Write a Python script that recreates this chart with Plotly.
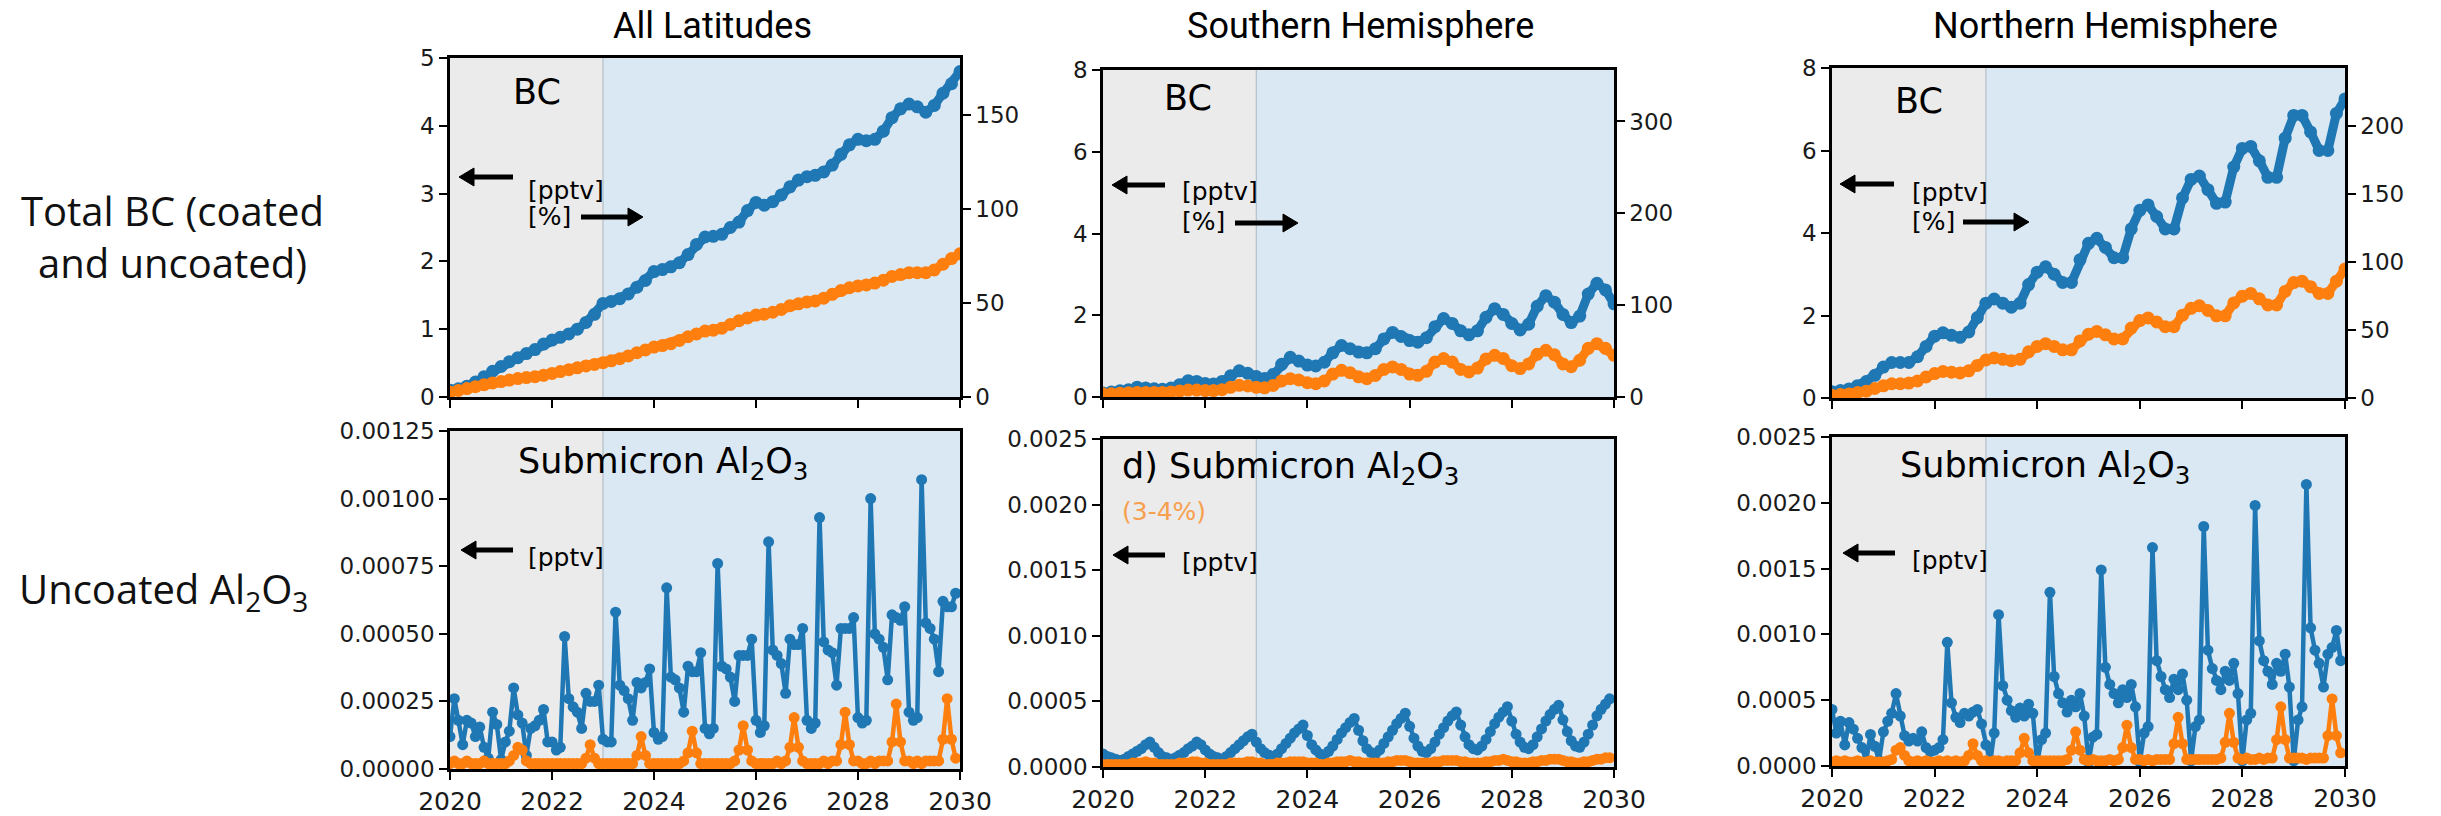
import pandas as pd
import plotly.graph_objects as go

W, H = 2441, 816
BLUE = '#1f77b4'
ORANGE = '#ff7f0e'
GRAY_BG = '#ebebeb'
BLUE_BG = '#dae8f4'

# ---------------- data ----------------
months = pd.date_range('2020-01-01', periods=120, freq='MS')          # bottom row (monthly)
bimonths = pd.date_range('2020-01-01', '2030-01-01', freq='2MS')      # top row (every 2 months)

col_titles = ['All Latitudes', 'Southern Hemisphere', 'Northern Hemisphere']
row_titles = ['Total BC (coated<br>and uncoated)', 'Uncoated Al<sub>2</sub>O<sub>3</sub>']

# Top row: total BC, blue = [pptv] (left axis), orange = [%] (right axis)
bc_all_pptv = [.10, .12, .16, .22, .30, .38,
               .45, .52, .58, .64, .70, .78,
               .84, .88, .93, 1.00, 1.10, 1.22,
               1.38, 1.41, 1.45, 1.52, 1.62, 1.72,
               1.85, 1.88, 1.92, 1.98, 2.10, 2.25,
               2.36, 2.37, 2.40, 2.50, 2.58, 2.75,
               2.87, 2.83, 2.88, 2.98, 3.10, 3.20,
               3.25, 3.27, 3.32, 3.42, 3.58, 3.72,
               3.80, 3.78, 3.80, 3.92, 4.12, 4.25,
               4.32, 4.28, 4.20, 4.30, 4.48, 4.62,
               4.80]
bc_all_pct = [2.5, 3.5, 4.5, 5.5, 6.5, 7.5,
              8.2, 9.0, 9.8, 10.3, 10.8, 11.5,
              12.5, 13.5, 14.5, 15.5, 16.5, 17.3,
              18.2, 19.2, 20.3, 21.8, 23.5, 25.0,
              26.5, 27.3, 28.3, 30.0, 32.0, 33.5,
              35.0, 35.5, 36.5, 38.5, 40.5, 42.0,
              43.5, 44.0, 45.0, 46.5, 48.5, 49.5,
              50.5, 51.0, 52.5, 54.5, 56.5, 58.0,
              59.0, 59.5, 60.5, 62.0, 64.0, 65.0,
              66.0, 66.0, 66.0, 67.5, 70.5, 73.5,
              76.0]
bc_sh_pptv = [.10, .12, .15, .18, .24, .22,
              .20, .19, .22, .30, .40, .38,
              .33, .32, .38, .52, .64, .58,
              .50, .45, .55, .80, .97, .88,
              .78, .76, .85, 1.08, 1.26, 1.18,
              1.10, 1.08, 1.18, 1.42, 1.58, 1.48,
              1.38, 1.34, 1.45, 1.72, 1.92, 1.80,
              1.62, 1.52, 1.62, 1.95, 2.16, 2.02,
              1.80, 1.64, 1.78, 2.22, 2.48, 2.32,
              2.02, 1.82, 1.98, 2.52, 2.78, 2.62,
              2.28]
bc_sh_pct = [3.5, 3.5, 4.0, 4.5, 5.0, 5.0,
             5.0, 5.0, 5.5, 6.5, 7.5, 7.5,
             7.0, 7.0, 8.0, 10.5, 12.7, 12.0,
             10.5, 10.0, 12.5, 17.5, 20.0, 18.5,
             15.5, 14.5, 17.5, 25.0, 29.0, 26.5,
             22.0, 20.0, 23.5, 30.0, 32.7, 30.0,
             25.0, 23.6, 28.0, 38.0, 41.8, 38.0,
             30.0, 27.2, 31.5, 41.5, 45.4, 42.0,
             34.0, 31.0, 36.0, 46.5, 50.9, 46.0,
             36.0, 33.0, 40.0, 53.0, 58.0, 53.0,
             45.4]
bc_nh_pptv = [.15, .18, .22, .30, .40, .55,
              .75, .86, .86, .86, 1.00, 1.25,
              1.50, 1.58, 1.52, 1.47, 1.60, 1.95,
              2.30, 2.40, 2.30, 2.20, 2.30, 2.75,
              3.05, 3.18, 3.00, 2.80, 2.80, 3.35,
              3.75, 3.87, 3.65, 3.40, 3.40, 4.10,
              4.55, 4.68, 4.40, 4.10, 4.10, 4.85,
              5.30, 5.38, 5.05, 4.72, 4.75, 5.60,
              6.05, 6.10, 5.75, 5.35, 5.35, 6.30,
              6.85, 6.85, 6.45, 6.00, 6.00, 6.90,
              7.25]
bc_nh_pct = [2, 2.5, 3, 4, 5, 7,
             9, 10.5, 10.5, 11, 12.5, 15.5,
             18, 19.5, 19, 18.5, 20, 24,
             28, 29.5, 28.5, 27.5, 28.5, 34,
             38, 40, 38, 35.5, 35.5, 42,
             47, 49, 46.5, 43.5, 43.5, 51.5,
             57, 59, 56, 52.5, 52.5, 61,
             66, 68, 64.5, 60.5, 60.5, 70,
             75, 77, 73, 68.5, 68.5, 78.5,
             85, 86, 82, 77, 77, 86,
             95]

# Bottom row: submicron Al2O3 [pptv], monthly
al_all_blue = [.00012, .00026, .00018, .00009, .00018, .00017, .00012, .000155, .00008, .00004, .00021, .000165,
               .000035, .00010, .00014, .00030, .00020, .00017, .00005, .00015, .00016, .00018, .00022, .00010,
               .00010, .00007, .00008, .00049, .00026, .00023, .00021, .00015, .00028, .00025, .00025, .00031,
               .00011, .00010, .00010, .00058, .00031, .00029, .00026, .00018, .00032, .00030, .00032, .00037,
               .000135, .00011, .00012, .00067, .00034, .00033, .00030, .00021, .00038, .00036, .00036, .00043,
               .00015, .00013, .00015, .00076, .00038, .00037, .00034, .00025, .00042, .00042, .00042, .00048,
               .00018, .000135, .00016, .00084, .00044, .00042, .00039, .00028, .00048, .00046, .00046, .00052,
               .00018, .00015, .00017, .00093, .00047, .00044, .00043, .00031, .00052, .00052, .00052, .00056,
               .00019, .00017, .00018, .00100, .00050, .00048, .00045, .00033, .00057, .00056, .00055, .00060,
               .00021, .00018, .00019, .00107, .00054, .00052, .00048, .00036, .00062, .00060, .00060, .00065]
al_all_orange = [.00002, .00003, .00002, .00002, .00003, .00002, .00002, .00002, .00003, .00002, .00002, .00002,
                 .00002, .00002, .00003, .00005, .00008, .00007, .00003, .00002, .00002, .00002, .00002, .00002,
                 .00002, .00002, .00002, .00002, .00002, .00002, .00002, .00002, .00004, .00009, .00004, .00002,
                 .00002, .00002, .00002, .00002, .00002, .00002, .00002, .00002, .00005, .00012, .00005, .00002,
                 .00002, .00002, .00002, .00002, .00002, .00002, .00002, .00003, .00006, .00014, .00006, .00002,
                 .00002, .00002, .00002, .00002, .00002, .00002, .00002, .00003, .00007, .00016, .00007, .00003,
                 .00002, .00002, .00002, .00002, .00002, .00003, .00002, .00003, .00008, .00019, .00008, .00003,
                 .00002, .00002, .00002, .00002, .00003, .00002, .00003, .00003, .00009, .00021, .00009, .00003,
                 .00003, .00002, .00002, .00003, .00002, .00003, .00003, .00003, .00010, .00024, .00010, .00003,
                 .00003, .00002, .00003, .00002, .00003, .00003, .00003, .00003, .00011, .00026, .00011, .00004]
al_sh_blue = [.00010, .00008, .00007, .00006, .00005, .00006, .00008, .00010, .00012, .00014, .00017, .00019,
              .00015, .00011, .00008, .00007, .00006, .00007, .00009, .00011, .00014, .00016, .00019, .00017,
              .00013, .00010, .00008, .00007, .00006, .00008, .00011, .00014, .00017, .00020, .00023, .00025,
              .00019, .00014, .00011, .00009, .00008, .00010, .00014, .00018, .00022, .00026, .00029, .00032,
              .00024, .00017, .00013, .00010, .00009, .00012, .00016, .00021, .00026, .00030, .00034, .00037,
              .00028, .00020, .00014, .00011, .00010, .00013, .00018, .00023, .00028, .00033, .00037, .00041,
              .00031, .00022, .00016, .00012, .00011, .00014, .00019, .00025, .00030, .00035, .00039, .00042,
              .00032, .00023, .00017, .00014, .00013, .00016, .00021, .00027, .00033, .00038, .00042, .00046,
              .00035, .00025, .00019, .00015, .00014, .00017, .00023, .00029, .00035, .00040, .00044, .00047,
              .00036, .00027, .00020, .00016, .00015, .00019, .00025, .00032, .00039, .00044, .00048, .00052]
al_sh_orange = [.00002, .00002, .00002, .00002, .00002, .00002, .00002, .00003, .00003, .00003, .00004, .00003,
                .00003, .00002, .00002, .00002, .00002, .00002, .00003, .00003, .00003, .00004, .00004, .00003,
                .00003, .00002, .00002, .00002, .00002, .00002, .00003, .00003, .00003, .00003, .00004, .00004,
                .00003, .00003, .00002, .00002, .00002, .00003, .00003, .00003, .00004, .00004, .00004, .00004,
                .00003, .00003, .00003, .00002, .00002, .00003, .00003, .00004, .00004, .00004, .00005, .00004,
                .00004, .00003, .00003, .00003, .00003, .00003, .00003, .00004, .00004, .00005, .00005, .00005,
                .00004, .00003, .00003, .00003, .00003, .00003, .00004, .00004, .00005, .00005, .00005, .00005,
                .00004, .00004, .00003, .00003, .00003, .00003, .00004, .00004, .00005, .00005, .00006, .00005,
                .00004, .00004, .00003, .00003, .00003, .00004, .00004, .00005, .00005, .00006, .00006, .00006,
                .00005, .00004, .00004, .00003, .00003, .00004, .00004, .00005, .00006, .00006, .00007, .00007]
al_nh_blue = [.00043, .00025, .00034, .00016, .00033, .00028, .00021, .00014, .00004, .00024, .00015, .00004,
              .00026, .00034, .00040, .00055, .00038, .00023, .00019, .00021, .00019, .00026, .00014, .00011,
              .00012, .00014, .00020, .00094, .00048, .00037, .00033, .00040, .00038, .00041, .00043, .00032,
              .00016, .00003, .00025, .00115, .00061, .00050, .00042, .00037, .00044, .00038, .00047, .00040,
              .00003, .00020, .00025, .00132, .00068, .00055, .00048, .00041, .00050, .00045, .00055, .00038,
              .00003, .00022, .00024, .00149, .00075, .00062, .00055, .00048, .00058, .00052, .00062, .00045,
              .00003, .00025, .00030, .00166, .00080, .00068, .00058, .00052, .00066, .00058, .00070, .00050,
              .00004, .00030, .00035, .00182, .00088, .00074, .00065, .00058, .00072, .00065, .00078, .00055,
              .00004, .00035, .00040, .00198, .00095, .00080, .00072, .00062, .00078, .00072, .00085, .00060,
              .00004, .00035, .00045, .00214, .00105, .00088, .00078, .00060, .00085, .00090, .00103, .00080]
al_nh_orange = [.00003, .00004, .00003, .00004, .00003, .00003, .00004, .00003, .00003, .00004, .00003, .00003,
                .00003, .00004, .00005, .00012, .00014, .00008, .00004, .00003, .00004, .00003, .00004, .00003,
                .00003, .00004, .00003, .00004, .00003, .00004, .00003, .00004, .00008, .00017, .00008, .00004,
                .00004, .00003, .00004, .00004, .00003, .00004, .00004, .00004, .00010, .00021, .00010, .00004,
                .00004, .00004, .00004, .00004, .00004, .00004, .00004, .00005, .00012, .00026, .00012, .00005,
                .00004, .00005, .00004, .00004, .00004, .00005, .00004, .00005, .00014, .00031, .00014, .00005,
                .00005, .00004, .00005, .00004, .00005, .00005, .00005, .00005, .00017, .00037, .00017, .00005,
                .00005, .00005, .00005, .00005, .00005, .00005, .00005, .00006, .00018, .00040, .00018, .00006,
                .00005, .00006, .00005, .00005, .00006, .00005, .00006, .00006, .00020, .00045, .00020, .00006,
                .00006, .00006, .00006, .00005, .00006, .00006, .00006, .00006, .00023, .00051, .00023, .00010]

# ---------------- layout helpers ----------------
def px(x):
    return x / W

def py(y):
    return 1 - y / H

# panel boxes in pixels: (left, right, top, bottom)
panels = {
    'tl': (450, 960, 58, 397),
    'tm': (1103, 1614, 70, 397),
    'tr': (1832, 2345, 68, 398),
    'bl': (450, 960, 431, 769),
    'bm': (1103, 1614, 439, 767),
    'br': (1832, 2345, 437, 766),
}

TICKFONT = dict(family='DejaVu Sans', size=23, color='#1a1a1a')
XTICKFONT = dict(family='DejaVu Sans', size=25, color='#1a1a1a')
AX = dict(showline=True, linecolor='black', linewidth=2.5, ticks='outside',
          ticklen=8, tickwidth=2, tickcolor='black', showgrid=False,
          zeroline=False, automargin=False)

fig = go.Figure()
layout = dict(width=W, height=H, margin=dict(l=0, r=0, t=0, b=0),
              paper_bgcolor='white', plot_bgcolor='white', showlegend=False)
shapes = []

def add_xaxis(key, labels):
    l, r, t, b = panels[key]
    return dict(AX, domain=[px(l), px(r)], type='date',
                range=['2020-01-01', '2030-01-01'], tick0='2020-01-01', dtick='M24',
                tickformat='%Y', showticklabels=labels, tickfont=XTICKFONT, mirror=True)

def add_yaxis(key, anchor, rng, dtick, fmt=None, side='left', overlay=None):
    l, r, t, b = panels[key]
    d = dict(AX, domain=[py(b), py(t)], anchor=anchor, range=rng, dtick=dtick,
             tick0=0, tickfont=TICKFONT, side=side)
    if fmt:
        d['tickformat'] = fmt
    if overlay:
        d['overlaying'] = overlay
    else:
        d['mirror'] = True
    return d

axes_spec = [
    # key, x name, y name, y2 name, y range, dtick, fmt, y2 range, y2 dtick
    ('tl', 'x', 'y', 'y2', [0, 5], 1, None, [0, 180], 50),
    ('tm', 'x2', 'y3', 'y4', [0, 8], 2, None, [0, 356], 100),
    ('tr', 'x3', 'y5', 'y6', [0, 8], 2, None, [0, 243], 50),
    ('bl', 'x4', 'y7', None, [0, 0.00125], 0.00025, '.5f', None, None),
    ('bm', 'x5', 'y8', None, [0, 0.0025], 0.0005, '.4f', None, None),
    ('br', 'x6', 'y9', None, [0, 0.0025], 0.0005, '.4f', None, None),
]

def lname(a):
    return a[0] + 'axis' + a[1:]

for key, xa, ya, ya2, rng, dt, fmt, rng2, dt2 in axes_spec:
    xd = add_xaxis(key, key.startswith('b'))
    xd['anchor'] = ya
    layout[lname(xa)] = xd
    layout[lname(ya)] = add_yaxis(key, xa, rng, dt, fmt)
    if ya2:
        layout[lname(ya2)] = add_yaxis(key, xa, rng2, dt2, side='right', overlay=ya)
    # backgrounds: grey (2020-2023), light blue (2023-2030), boundary line
    shapes.append(dict(type='rect', xref=xa, yref=f'{ya} domain', x0='2020-01-01', x1='2023-01-01',
                       y0=0, y1=1, fillcolor=GRAY_BG, line_width=0, layer='below'))
    shapes.append(dict(type='rect', xref=xa, yref=f'{ya} domain', x0='2023-01-01', x1='2030-01-01',
                       y0=0, y1=1, fillcolor=BLUE_BG, line_width=0, layer='below'))
    shapes.append(dict(type='line', xref=xa, yref=f'{ya} domain', x0='2023-01-01', x1='2023-01-01',
                       y0=0, y1=1, line=dict(color='#b4bec8', width=1.2), layer='below'))

TOP_LINE = dict(width=9)
TOP_MK = dict(size=13)
BOT_LINE = dict(width=4.5)
BOT_MK = dict(size=11)

top_series = [('x', 'y', 'y2', bc_all_pptv, bc_all_pct),
              ('x2', 'y3', 'y4', bc_sh_pptv, bc_sh_pct),
              ('x3', 'y5', 'y6', bc_nh_pptv, bc_nh_pct)]
for xa, ya, ya2, b, o in top_series:
    fig.add_trace(go.Scatter(x=bimonths, y=b, xaxis=xa, yaxis=ya, mode='lines+markers',
                             line=dict(color=BLUE, **TOP_LINE), marker=dict(color=BLUE, **TOP_MK)))
    fig.add_trace(go.Scatter(x=bimonths, y=o, xaxis=xa, yaxis=ya2, mode='lines+markers',
                             line=dict(color=ORANGE, **TOP_LINE), marker=dict(color=ORANGE, **TOP_MK)))

bot_series = [('x4', 'y7', al_all_blue, al_all_orange),
              ('x5', 'y8', al_sh_blue, al_sh_orange),
              ('x6', 'y9', al_nh_blue, al_nh_orange)]
for xa, ya, b, o in bot_series:
    fig.add_trace(go.Scatter(x=months, y=b, xaxis=xa, yaxis=ya, mode='lines+markers',
                             line=dict(color=BLUE, **BOT_LINE), marker=dict(color=BLUE, **BOT_MK)))
    fig.add_trace(go.Scatter(x=months, y=o, xaxis=xa, yaxis=ya, mode='lines+markers',
                             line=dict(color=ORANGE, **BOT_LINE), marker=dict(color=ORANGE, **BOT_MK)))

# ---------------- annotations ----------------
ann = []

def text(x, y, s, size, family='DejaVu Sans', color='black', xanchor='left', weight=None):
    f = dict(family=family, size=size, color=color)
    if weight:
        f['weight'] = weight
    ann.append(dict(x=px(x), y=py(y), xref='paper', yref='paper', text=s, showarrow=False,
                    xanchor=xanchor, yanchor='middle', font=f, align='center'))

def arrow(tip_x, tail_x, y):
    """Horizontal black arrow drawn as shapes (shaft + filled head), pixel geometry."""
    d = 1 if tail_x > tip_x else -1          # direction from tip toward tail
    head_len, head_half = 15, 9
    base_x = tip_x + d * head_len
    shapes.append(dict(type='line', xref='paper', yref='paper',
                       x0=px(tail_x), x1=px(base_x), y0=py(y), y1=py(y),
                       line=dict(color='black', width=5)))
    shapes.append(dict(type='path', xref='paper', yref='paper',
                       path=(f'M {px(tip_x)},{py(y)} L {px(base_x)},{py(y - head_half)} '
                             f'L {px(base_x)},{py(y + head_half)} Z'),
                       fillcolor='black', line=dict(color='black', width=1)))

# column titles
for cx, t in zip([712, 1360, 2105], col_titles):
    text(cx, 26, t, 36, family='Roboto', xanchor='center')
# row titles
text(172, 236, row_titles[0], 40, family='Open Sans', xanchor='center', color='#111')
text(163, 590, row_titles[1], 40, family='Open Sans', xanchor='center', color='#111')

# top-row labels
for bcx, bcy, ax0, ax1, ay, tx, ty1, ty2, rx0, rx1, ry in [
        (537, 92, 459, 513, 177, 526, 190, 217, 581, 643, 217),
        (1188, 98, 1112, 1165, 185, 1180, 191, 222, 1235, 1298, 223),
        (1919, 101, 1840, 1894, 184, 1910, 192, 222, 1963, 2029, 222)]:
    text(bcx, bcy, 'BC', 35, xanchor='center')
    arrow(ax0, ax1, ay)
    text(tx, ty1, '[pptv]', 25)
    text(tx, ty2, '[%]', 25)
    arrow(rx1, rx0, ry)

# bottom-row labels
sub = 'Submicron Al<sub>2</sub>O<sub>3</sub>'
text(516, 463, sub, 35)
text(1120, 469, 'd) ' + sub, 35)
text(1898, 467, sub, 35)
text(1120, 511, '(3-4%)', 25, color='#f7a04e')
for a0, a1, ay, tx, ty in [(461, 513, 550, 526, 557),
                           (1113, 1165, 555, 1180, 562),
                           (1843, 1895, 553, 1910, 560)]:
    arrow(a0, a1, ay)
    text(tx, ty, '[pptv]', 25)

layout['annotations'] = ann
layout['shapes'] = shapes
fig.update_layout(**layout)
fig.write_html('out.html')
